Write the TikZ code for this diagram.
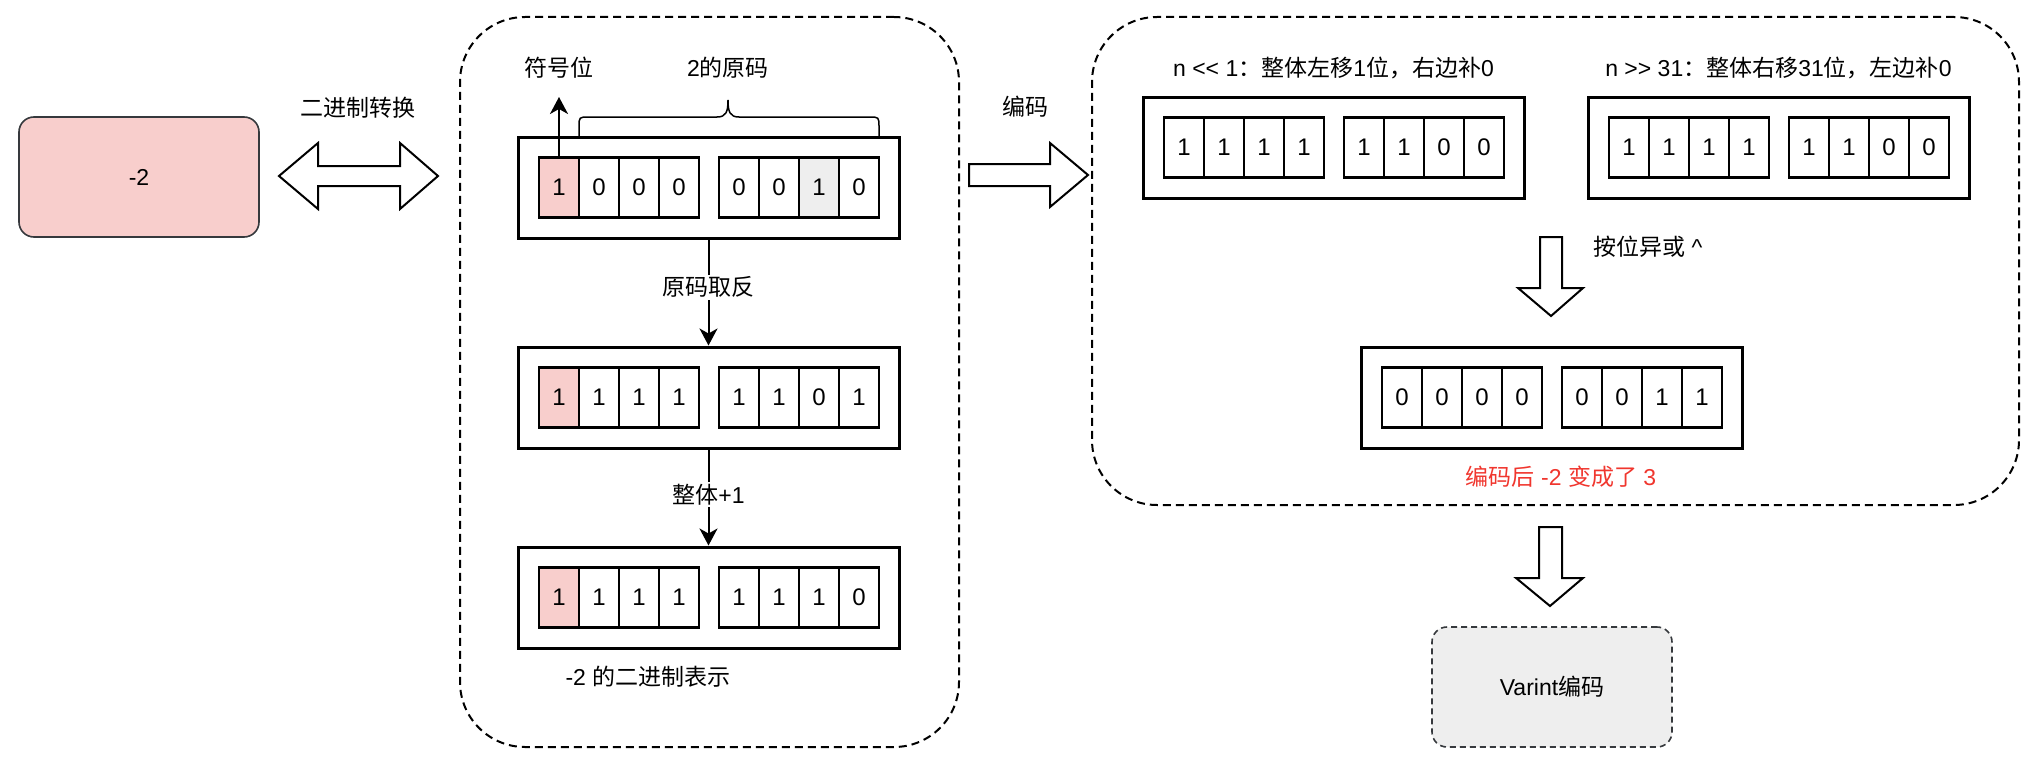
\documentclass[tikz,border=0pt]{standalone}
\usepackage{fontspec}
\setmainfont{Liberation Sans}
\newfontfamily\cjk{Noto Sans CJK SC}
\usetikzlibrary{arrows.meta}
\definecolor{pinkfill}{HTML}{F8CECC}
\definecolor{grayfill}{HTML}{EEEEEE}
\definecolor{darkline}{HTML}{36393D}
\definecolor{redtext}{HTML}{F0362E}
\tikzset{
  container/.style={draw, line width=2pt, dash pattern=on 8pt off 5pt, rounded corners=65pt, inner sep=0},
  outerbox/.style={draw, line width=3pt, minimum width=381pt, minimum height=101pt, inner sep=0},
  cell/.style={draw, line width=2.5pt, minimum width=40pt, minimum height=60pt, inner sep=0, font=\fontsize{24}{28}\selectfont},
  lbl/.style={font=\fontsize{23}{28}\selectfont, inner sep=2pt},
  blockarrow/.style={draw, line width=2pt, fill=white, line join=miter},
  flow/.style={draw, line width=2pt, -{Stealth[length=17pt,width=18pt,inset=5pt]}},
  roundbox/.style={draw=darkline, line width=1.6pt, rounded corners=15pt, minimum width=240pt, minimum height=120pt, inner sep=0, font=\fontsize{23}{28}\selectfont},
}
\newcommand\bitbox[4]{%
  \node[outerbox] (#1) at ({#2+190.5},{#3+50.5}) {};
  \foreach \b/\f [count=\i from 0] in {#4} {
    \node[cell, fill=\f] (#1-\i) at ({#2+41+40*\i+20*(\i>3)},{#3+50.5}) {\b};
  }
}
\begin{document}
\begin{tikzpicture}[x=1pt,y=-1pt]
\useasboundingbox (0,0) rectangle (2038,768);
% containers
\node[container, minimum width=499pt, minimum height=730pt] (lc) at (709.5,382) {};
\node[container, minimum width=927pt, minimum height=488pt] (rc) at (1555.5,261) {};
% -2 box
\node[roundbox, fill=pinkfill] (n2) at (139,177) {-2};
% Varint box
\node[roundbox, fill=grayfill, dash pattern=on 6pt off 4pt] (varint) at (1552,687) {Varint{\cjk 编码}};
% block arrows
\draw[blockarrow] (279,176) -- (318,143) -- (318,166) -- (400,166) -- (400,143) -- (438,176) -- (400,209) -- (400,186) -- (318,186) -- (318,209) -- cycle;
\draw[blockarrow] (969,164) -- (1050,164) -- (1050,143) -- (1088,175) -- (1050,207) -- (1050,186) -- (969,186) -- cycle;
\draw[blockarrow] (1540,237) -- (1562,237) -- (1562,288) -- (1583,288) -- (1551,316) -- (1518,288) -- (1540,288) -- cycle;
\draw[blockarrow] (1539,527) -- (1562,527) -- (1562,578) -- (1583,578) -- (1550,606) -- (1516,578) -- (1539,578) -- cycle;
% bit boxes
\bitbox{ba}{518}{137}{1/pinkfill,0/white,0/white,0/white,0/white,0/white,1/grayfill,0/white}
\bitbox{bb}{518}{347}{1/pinkfill,1/white,1/white,1/white,1/white,1/white,0/white,1/white}
\bitbox{bc}{518}{547}{1/pinkfill,1/white,1/white,1/white,1/white,1/white,1/white,0/white}
\bitbox{ra}{1143}{97}{1/white,1/white,1/white,1/white,1/white,1/white,0/white,0/white}
\bitbox{rb}{1588}{97}{1/white,1/white,1/white,1/white,1/white,1/white,0/white,0/white}
\bitbox{rcx}{1361}{347}{0/white,0/white,0/white,0/white,0/white,0/white,1/white,1/white}
% flow arrows
\draw[flow] (ba.south) -- node[lbl, fill=white, pos=0.45] (l1) {\cjk 原码取反} (bb.north);
\draw[flow] (bb.south) -- node[lbl, fill=white, pos=0.47] (l2) {{\cjk 整体}+1} (bc.north);
\coordinate (signtip) at (559,97);
\draw[flow] (ba-0.north) -- (signtip);
% brace
\coordinate (brl) at (579,136);
\coordinate (brr) at (879,136);
\draw[line width=1.5pt] (brl) -- (579,127) .. controls (579,117) .. (589,117) -- (717,117) .. controls (726,117) and (728,112) .. (728,100) .. controls (728,112) and (730,117) .. (739,117) -- (869,117) .. controls (879,117) .. (879,127) -- (brr);
% labels
\node[lbl] (sgn) at (559,68) {\cjk 符号位};
\node[lbl] (orig) at (728,68) {2{\cjk 的原码}};
\node[lbl] (conv) at (358,108) {\cjk 二进制转换};
\node[lbl] (enc) at (1025,107) {\cjk 编码};
\node[lbl] (bin) at (648,677) {-2 {\cjk 的二进制表示}};
\node[lbl] (shl) at (1333.5,68) {n <\kern0pt< 1{\cjk ：整体左移}1{\cjk 位，右边补}0};
\node[lbl] (shr) at (1778.5,68) {n >\kern0pt> 31{\cjk ：整体右移}31{\cjk 位，左边补}0};
\node[lbl, anchor=west] (xor) at (1591,247) {{\cjk 按位异或} \textasciicircum};
\node[lbl, text=redtext] (res) at (1561,477) {{\cjk 编码后} -2 {\cjk 变成了} 3};
\end{tikzpicture}
\end{document}
